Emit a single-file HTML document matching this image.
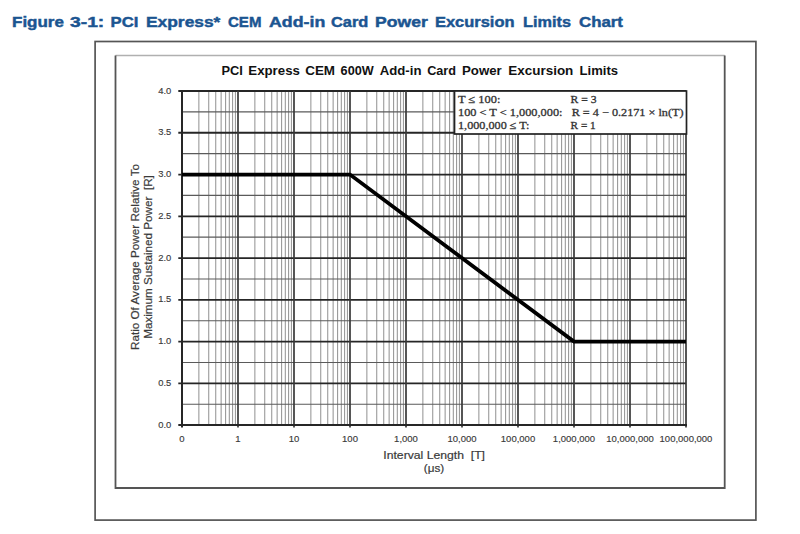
<!DOCTYPE html>
<html><head><meta charset="utf-8">
<style>
html,body{margin:0;padding:0;background:#fff;width:800px;height:534px;overflow:hidden;}
svg{position:absolute;left:0;top:0;}
.mv{stroke:#9a9a9a;stroke-width:1.1;}
.mh{stroke:#5a5a5a;stroke-width:1.1;}
.Mh{stroke:#262626;stroke-width:1.8;}
.Mv{stroke:#383838;stroke-width:1.7;}
.ax{stroke:#262626;stroke-width:2;}
.ttl{font-family:"Liberation Sans",sans-serif;font-weight:bold;font-size:14.9px;fill:#1b5591;stroke:#1b5591;stroke-width:0.45px;}
.ct{font-family:"Liberation Sans",sans-serif;font-weight:bold;font-size:13px;fill:#111;}
.yl{font-family:"Liberation Sans",sans-serif;font-size:9.4px;fill:#3a3a3a;stroke:#3a3a3a;stroke-width:0.15px;}
.xl{font-family:"Liberation Sans",sans-serif;font-size:9.5px;fill:#3a3a3a;stroke:#3a3a3a;stroke-width:0.15px;}
.at{font-family:"Liberation Sans",sans-serif;font-size:11.7px;fill:#3a3a3a;stroke:#3a3a3a;stroke-width:0.2px;}
.lg{font-family:"Liberation Serif",serif;font-size:10.8px;fill:#333;stroke:#333;stroke-width:0.3px;}
</style></head><body>
<svg width="800" height="534" viewBox="0 0 800 534">
<text x="12.0" y="26.75" textLength="51.93" lengthAdjust="spacingAndGlyphs" class="ttl">Figure</text>
<text x="70.0" y="26.75" textLength="34.26" lengthAdjust="spacingAndGlyphs" class="ttl">3-1:</text>
<text x="110.6" y="26.75" textLength="27.77" lengthAdjust="spacingAndGlyphs" class="ttl">PCI</text>
<text x="146.0" y="26.75" textLength="74.39" lengthAdjust="spacingAndGlyphs" class="ttl">Express*</text>
<text x="228.0" y="26.75" textLength="33.42" lengthAdjust="spacingAndGlyphs" class="ttl">CEM</text>
<text x="269.0" y="26.75" textLength="56.25" lengthAdjust="spacingAndGlyphs" class="ttl">Add-in</text>
<text x="331.0" y="26.75" textLength="37.28" lengthAdjust="spacingAndGlyphs" class="ttl">Card</text>
<text x="375.0" y="26.75" textLength="52.76" lengthAdjust="spacingAndGlyphs" class="ttl">Power</text>
<text x="435.0" y="26.75" textLength="79.51" lengthAdjust="spacingAndGlyphs" class="ttl">Excursion</text>
<text x="523.0" y="26.75" textLength="47.98" lengthAdjust="spacingAndGlyphs" class="ttl">Limits</text>
<text x="579.0" y="26.75" textLength="43.97" lengthAdjust="spacingAndGlyphs" class="ttl">Chart</text>
<rect x="95.1" y="41.5" width="660.8" height="478.6" fill="none" stroke="#555" stroke-width="1.7"/>
<line x1="115.5" y1="55.5" x2="724.7" y2="55.5" stroke="#b0b0b0" stroke-width="1.3"/>
<polyline points="115.5,55.5 115.5,488 724.7,488 724.7,55.5" fill="none" stroke="#555" stroke-width="1.8"/>
<text x="221.5" y="74.5" textLength="21.38" lengthAdjust="spacingAndGlyphs" class="ct">PCI</text>
<text x="248.3" y="74.5" textLength="51.59" lengthAdjust="spacingAndGlyphs" class="ct">Express</text>
<text x="305.2" y="74.5" textLength="29.89" lengthAdjust="spacingAndGlyphs" class="ct">CEM</text>
<text x="340.6" y="74.5" textLength="33.14" lengthAdjust="spacingAndGlyphs" class="ct">600W</text>
<text x="379.75" y="74.5" textLength="41.71" lengthAdjust="spacingAndGlyphs" class="ct">Add-in</text>
<text x="427.2" y="74.5" textLength="28.83" lengthAdjust="spacingAndGlyphs" class="ct">Card</text>
<text x="462.0" y="74.5" textLength="39.7" lengthAdjust="spacingAndGlyphs" class="ct">Power</text>
<text x="508.3" y="74.5" textLength="65.05" lengthAdjust="spacingAndGlyphs" class="ct">Excursion</text>
<text x="579.5" y="74.5" textLength="38.55" lengthAdjust="spacingAndGlyphs" class="ct">Limits</text>
<line x1="198.86" y1="91.0" x2="198.86" y2="425.1" class="mv"/>
<line x1="208.72" y1="91.0" x2="208.72" y2="425.1" class="mv"/>
<line x1="215.72" y1="91.0" x2="215.72" y2="425.1" class="mv"/>
<line x1="221.14" y1="91.0" x2="221.14" y2="425.1" class="mv"/>
<line x1="225.58" y1="91.0" x2="225.58" y2="425.1" class="mv"/>
<line x1="229.33" y1="91.0" x2="229.33" y2="425.1" class="mv"/>
<line x1="232.57" y1="91.0" x2="232.57" y2="425.1" class="mv"/>
<line x1="235.44" y1="91.0" x2="235.44" y2="425.1" class="mv"/>
<line x1="254.86" y1="91.0" x2="254.86" y2="425.1" class="mv"/>
<line x1="264.72" y1="91.0" x2="264.72" y2="425.1" class="mv"/>
<line x1="271.72" y1="91.0" x2="271.72" y2="425.1" class="mv"/>
<line x1="277.14" y1="91.0" x2="277.14" y2="425.1" class="mv"/>
<line x1="281.58" y1="91.0" x2="281.58" y2="425.1" class="mv"/>
<line x1="285.33" y1="91.0" x2="285.33" y2="425.1" class="mv"/>
<line x1="288.57" y1="91.0" x2="288.57" y2="425.1" class="mv"/>
<line x1="291.44" y1="91.0" x2="291.44" y2="425.1" class="mv"/>
<line x1="310.86" y1="91.0" x2="310.86" y2="425.1" class="mv"/>
<line x1="320.72" y1="91.0" x2="320.72" y2="425.1" class="mv"/>
<line x1="327.72" y1="91.0" x2="327.72" y2="425.1" class="mv"/>
<line x1="333.14" y1="91.0" x2="333.14" y2="425.1" class="mv"/>
<line x1="337.58" y1="91.0" x2="337.58" y2="425.1" class="mv"/>
<line x1="341.33" y1="91.0" x2="341.33" y2="425.1" class="mv"/>
<line x1="344.57" y1="91.0" x2="344.57" y2="425.1" class="mv"/>
<line x1="347.44" y1="91.0" x2="347.44" y2="425.1" class="mv"/>
<line x1="366.86" y1="91.0" x2="366.86" y2="425.1" class="mv"/>
<line x1="376.72" y1="91.0" x2="376.72" y2="425.1" class="mv"/>
<line x1="383.72" y1="91.0" x2="383.72" y2="425.1" class="mv"/>
<line x1="389.14" y1="91.0" x2="389.14" y2="425.1" class="mv"/>
<line x1="393.58" y1="91.0" x2="393.58" y2="425.1" class="mv"/>
<line x1="397.33" y1="91.0" x2="397.33" y2="425.1" class="mv"/>
<line x1="400.57" y1="91.0" x2="400.57" y2="425.1" class="mv"/>
<line x1="403.44" y1="91.0" x2="403.44" y2="425.1" class="mv"/>
<line x1="422.86" y1="91.0" x2="422.86" y2="425.1" class="mv"/>
<line x1="432.72" y1="91.0" x2="432.72" y2="425.1" class="mv"/>
<line x1="439.72" y1="91.0" x2="439.72" y2="425.1" class="mv"/>
<line x1="445.14" y1="91.0" x2="445.14" y2="425.1" class="mv"/>
<line x1="449.58" y1="91.0" x2="449.58" y2="425.1" class="mv"/>
<line x1="453.33" y1="91.0" x2="453.33" y2="425.1" class="mv"/>
<line x1="456.57" y1="91.0" x2="456.57" y2="425.1" class="mv"/>
<line x1="459.44" y1="91.0" x2="459.44" y2="425.1" class="mv"/>
<line x1="478.86" y1="91.0" x2="478.86" y2="425.1" class="mv"/>
<line x1="488.72" y1="91.0" x2="488.72" y2="425.1" class="mv"/>
<line x1="495.72" y1="91.0" x2="495.72" y2="425.1" class="mv"/>
<line x1="501.14" y1="91.0" x2="501.14" y2="425.1" class="mv"/>
<line x1="505.58" y1="91.0" x2="505.58" y2="425.1" class="mv"/>
<line x1="509.33" y1="91.0" x2="509.33" y2="425.1" class="mv"/>
<line x1="512.57" y1="91.0" x2="512.57" y2="425.1" class="mv"/>
<line x1="515.44" y1="91.0" x2="515.44" y2="425.1" class="mv"/>
<line x1="534.86" y1="91.0" x2="534.86" y2="425.1" class="mv"/>
<line x1="544.72" y1="91.0" x2="544.72" y2="425.1" class="mv"/>
<line x1="551.72" y1="91.0" x2="551.72" y2="425.1" class="mv"/>
<line x1="557.14" y1="91.0" x2="557.14" y2="425.1" class="mv"/>
<line x1="561.58" y1="91.0" x2="561.58" y2="425.1" class="mv"/>
<line x1="565.33" y1="91.0" x2="565.33" y2="425.1" class="mv"/>
<line x1="568.57" y1="91.0" x2="568.57" y2="425.1" class="mv"/>
<line x1="571.44" y1="91.0" x2="571.44" y2="425.1" class="mv"/>
<line x1="590.86" y1="91.0" x2="590.86" y2="425.1" class="mv"/>
<line x1="600.72" y1="91.0" x2="600.72" y2="425.1" class="mv"/>
<line x1="607.72" y1="91.0" x2="607.72" y2="425.1" class="mv"/>
<line x1="613.14" y1="91.0" x2="613.14" y2="425.1" class="mv"/>
<line x1="617.58" y1="91.0" x2="617.58" y2="425.1" class="mv"/>
<line x1="621.33" y1="91.0" x2="621.33" y2="425.1" class="mv"/>
<line x1="624.57" y1="91.0" x2="624.57" y2="425.1" class="mv"/>
<line x1="627.44" y1="91.0" x2="627.44" y2="425.1" class="mv"/>
<line x1="646.86" y1="91.0" x2="646.86" y2="425.1" class="mv"/>
<line x1="656.72" y1="91.0" x2="656.72" y2="425.1" class="mv"/>
<line x1="663.72" y1="91.0" x2="663.72" y2="425.1" class="mv"/>
<line x1="669.14" y1="91.0" x2="669.14" y2="425.1" class="mv"/>
<line x1="673.58" y1="91.0" x2="673.58" y2="425.1" class="mv"/>
<line x1="677.33" y1="91.0" x2="677.33" y2="425.1" class="mv"/>
<line x1="680.57" y1="91.0" x2="680.57" y2="425.1" class="mv"/>
<line x1="683.44" y1="91.0" x2="683.44" y2="425.1" class="mv"/>
<line x1="182.0" y1="404.22" x2="686.0" y2="404.22" class="mh"/>
<line x1="182.0" y1="362.46" x2="686.0" y2="362.46" class="mh"/>
<line x1="182.0" y1="320.69" x2="686.0" y2="320.69" class="mh"/>
<line x1="182.0" y1="278.93" x2="686.0" y2="278.93" class="mh"/>
<line x1="182.0" y1="237.17" x2="686.0" y2="237.17" class="mh"/>
<line x1="182.0" y1="195.41" x2="686.0" y2="195.41" class="mh"/>
<line x1="182.0" y1="153.64" x2="686.0" y2="153.64" class="mh"/>
<line x1="182.0" y1="111.88" x2="686.0" y2="111.88" class="mh"/>
<line x1="178.3" y1="383.34" x2="686.0" y2="383.34" class="Mh"/>
<line x1="178.3" y1="341.58" x2="686.0" y2="341.58" class="Mh"/>
<line x1="178.3" y1="299.81" x2="686.0" y2="299.81" class="Mh"/>
<line x1="178.3" y1="258.05" x2="686.0" y2="258.05" class="Mh"/>
<line x1="178.3" y1="216.29" x2="686.0" y2="216.29" class="Mh"/>
<line x1="178.3" y1="174.53" x2="686.0" y2="174.53" class="Mh"/>
<line x1="178.3" y1="132.76" x2="686.0" y2="132.76" class="Mh"/>
<line x1="178.3" y1="91.00" x2="686.0" y2="91.00" class="Mh"/>
<line x1="238.00" y1="91.0" x2="238.00" y2="427.6" class="Mv"/>
<line x1="294.00" y1="91.0" x2="294.00" y2="427.6" class="Mv"/>
<line x1="350.00" y1="91.0" x2="350.00" y2="427.6" class="Mv"/>
<line x1="406.00" y1="91.0" x2="406.00" y2="427.6" class="Mv"/>
<line x1="462.00" y1="91.0" x2="462.00" y2="427.6" class="Mv"/>
<line x1="518.00" y1="91.0" x2="518.00" y2="427.6" class="Mv"/>
<line x1="574.00" y1="91.0" x2="574.00" y2="427.6" class="Mv"/>
<line x1="630.00" y1="91.0" x2="630.00" y2="427.6" class="Mv"/>
<line x1="686.00" y1="91.0" x2="686.00" y2="427.6" class="Mv"/>
<line x1="182.0" y1="90.0" x2="182.0" y2="427.6" class="ax"/>
<line x1="178.3" y1="425.1" x2="687.0" y2="425.1" class="ax"/>
<text x="171.3" y="427.60" text-anchor="end" class="yl">0.0</text>
<text x="171.3" y="385.84" text-anchor="end" class="yl">0.5</text>
<text x="171.3" y="344.08" text-anchor="end" class="yl">1.0</text>
<text x="171.3" y="302.31" text-anchor="end" class="yl">1.5</text>
<text x="171.3" y="260.55" text-anchor="end" class="yl">2.0</text>
<text x="171.3" y="218.79" text-anchor="end" class="yl">2.5</text>
<text x="171.3" y="177.03" text-anchor="end" class="yl">3.0</text>
<text x="171.3" y="135.26" text-anchor="end" class="yl">3.5</text>
<text x="171.3" y="93.50" text-anchor="end" class="yl">4.0</text>
<text x="182.00" y="441.9" text-anchor="middle" class="xl">0</text>
<text x="238.00" y="441.9" text-anchor="middle" class="xl">1</text>
<text x="294.00" y="441.9" text-anchor="middle" class="xl">10</text>
<text x="350.00" y="441.9" text-anchor="middle" class="xl">100</text>
<text x="406.00" y="441.9" text-anchor="middle" class="xl">1,000</text>
<text x="462.00" y="441.9" text-anchor="middle" class="xl">10,000</text>
<text x="518.00" y="441.9" text-anchor="middle" class="xl">100,000</text>
<text x="574.00" y="441.9" text-anchor="middle" class="xl">1,000,000</text>
<text x="630.00" y="441.9" text-anchor="middle" class="xl">10,000,000</text>
<text x="686.00" y="441.9" text-anchor="middle" class="xl">100,000,000</text>
<polyline points="182.0,174.53 350.00,174.53 574.00,341.58 686.0,341.58" fill="none" stroke="#000" stroke-width="3.8" stroke-linejoin="miter"/>
<rect x="454.5" y="91.0" width="232" height="43" fill="#fff" stroke="#222" stroke-width="1.7"/>
<text class="lg" x="458" y="103.2" textLength="42.4" lengthAdjust="spacingAndGlyphs">T ≤ 100:</text>
<text class="lg" x="570.6" y="103.2" textLength="26" lengthAdjust="spacingAndGlyphs">R = 3</text>
<text class="lg" x="458" y="115.9" textLength="104.5" lengthAdjust="spacingAndGlyphs">100 &lt; T &lt; 1,000,000:</text>
<text class="lg" x="571.7" y="115.9" textLength="111.8" lengthAdjust="spacingAndGlyphs">R = 4 − 0.2171 × ln(T)</text>
<text class="lg" x="458" y="128.8" textLength="71.5" lengthAdjust="spacingAndGlyphs">1,000,000 ≤ T:</text>
<text class="lg" x="570.6" y="128.8" textLength="25.1" lengthAdjust="spacingAndGlyphs">R = 1</text>
<text class="at" x="383.3" y="459.2" id="xt" textLength="101.7" lengthAdjust="spacingAndGlyphs" xml:space="preserve">Interval Length  [T]</text>
<text class="at" x="434" y="472" text-anchor="middle">(μs)</text>
<g transform="translate(139,257) rotate(-90)">
<text class="at" x="0" y="0" text-anchor="middle" id="yt1">Ratio Of Average Power Relative To</text>
<text class="at" x="0" y="13" text-anchor="middle" id="yt2" xml:space="preserve">Maximum Sustained Power  [R]</text>
</g>
</svg>
</body></html>
